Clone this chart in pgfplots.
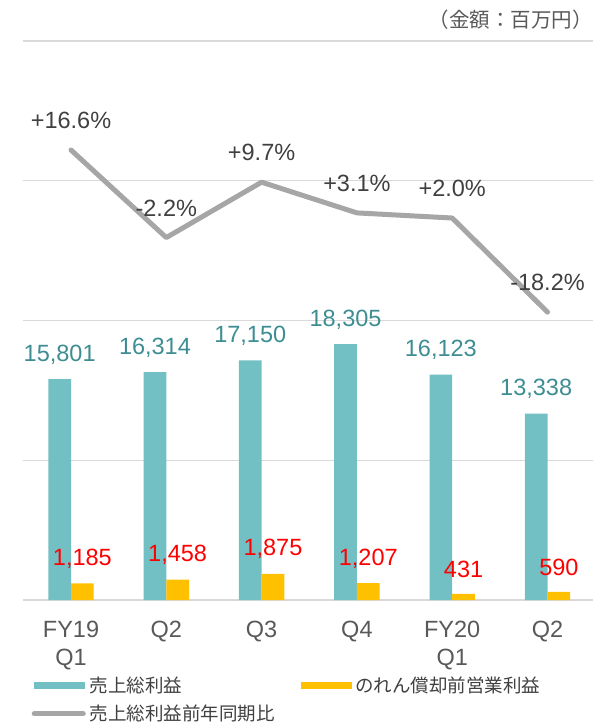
\documentclass[border=0pt]{standalone}
\usepackage{fontspec}
\setmainfont{Liberation Sans}
\newfontfamily\cjk{Noto Sans CJK JP}
\usepackage{pgfplots}
\pgfplotsset{compat=1.18}
\definecolor{tealbar}{HTML}{72BFC4}
\definecolor{tealtext}{HTML}{3D8D92}
\definecolor{goldbar}{HTML}{FFC000}
\definecolor{linegray}{HTML}{A6A6A6}
\definecolor{gridgray}{HTML}{D9D9D9}
\definecolor{darktext}{HTML}{404040}
\definecolor{ticktext}{HTML}{595959}
\begin{document}
\begin{tikzpicture}
\path[use as bounding box] (-23.35bp,-122bp) rectangle (569.65bp,600bp);
\begin{axis}[
  at={(0,0)}, anchor=south west,
  scale only axis, width=571.8bp, height=559bp,
  xmin=-0.5, xmax=5.5, ymin=0, ymax=40000,
  scaled y ticks=false,
  ytick={0,10000,20000,30000,40000}, yticklabels={},
  ymajorgrids, grid style={gridgray, line width=1.3bp},
  axis line style={draw=none}, major tick style={draw=none},
  xtick={0,...,5}, xticklabels={{FY19\\Q1},Q2,Q3,Q4,{FY20\\Q1},Q2},
  xticklabel style={align=center, font=\fontsize{23.5bp}{28bp}\selectfont, text=ticktext, yshift=-13bp},
  ybar=0pt, bar width=22.7bp,
  point meta=explicit symbolic,
  nodes near coords,
  clip=false,
]
\addplot[fill=tealbar, draw=none,
  every node near coord/.append style={anchor=center, yshift=24.5bp, inner sep=0pt, text=tealtext, font=\fontsize{23.5bp}{28bp}\selectfont}]
  coordinates {(0,15801)[15,801] (1,16314)[16,314] (2,17150)[17,150] (3,18305)[18,305] (4,16123)[16,123] (5,13338)[13,338]};
\addplot[fill=goldbar, draw=none,
  every node near coord/.append style={anchor=center, yshift=24.5bp, inner sep=0pt, text=red, font=\fontsize{23.5bp}{28bp}\selectfont}]
  coordinates {(0,1185)[1,185] (1,1458)[1,458] (2,1875)[1,875] (3,1207)[1,207] (4,431)[431] (5,590)[590]};
\end{axis}
\begin{axis}[
  at={(0,0)}, anchor=south west,
  scale only axis, width=571.8bp, height=559bp,
  xmin=-0.5, xmax=5.5, ymin=-80, ymax=40,
  hide axis, clip=false,
  legend columns=2,
  legend cell align=left,
  legend style={at={(0.0146,-0.1377)}, anchor=north west, draw=none, fill=none,
    inner sep=0pt, outer sep=0pt, row sep=11bp,
    font=\cjk\fontsize{18.5bp}{22bp}\selectfont, text=darktext,
    nodes={inner sep=0pt},
    /tikz/every odd column/.append style={column sep=4bp},
    /tikz/every even column/.append style={column sep=26bp}},
]
\addplot[linegray, line width=5bp, line cap=round, line join=round, forget plot,
  point meta=explicit symbolic, nodes near coords,
  every node near coord/.append style={anchor=center, yshift=29.5bp, inner sep=0pt, text=darktext, font=\fontsize{23.5bp}{28bp}\selectfont}]
  coordinates {(0,16.6)[+16.6\%] (1,-2.2)[-2.2\%] (2,9.7)[+9.7\%] (3,3.1)[+3.1\%] (4,2.0)[+2.0\%] (5,-18.2)[-18.2\%]};
\addlegendimage{legend image code/.code={\fill[tealbar] (0bp,-3bp) rectangle (50bp,3bp);}}
\addlegendentry{売上総利益}
\addlegendimage{legend image code/.code={\fill[goldbar] (0bp,-3bp) rectangle (50bp,3bp);}}
\addlegendentry{のれん償却前営業利益}
\addlegendimage{legend image code/.code={\draw[linegray, line width=5.5bp, line cap=round] (0bp,0bp) -- (48.6bp,0bp);}}
\addlegendentry{売上総利益前年同期比}
\end{axis}
\node[anchor=east, inner sep=0pt, text=ticktext, font=\cjk\fontsize{20.5bp}{24bp}\selectfont] at (569.4bp,580bp) {（金額：百万円）};
\end{tikzpicture}
\end{document}
